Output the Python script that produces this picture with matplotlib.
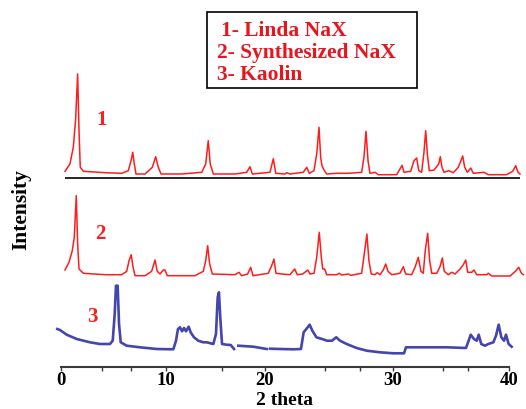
import numpy as np
import matplotlib
matplotlib.use("Agg")
import matplotlib.pyplot as plt
from matplotlib.patches import Rectangle

# 2 theta positions and intensities (relative to each pattern's own baseline)
linda_x = [0.41, 0.88, 1.20, 1.42, 1.61, 1.74, 1.86, 2.15, 4.21, 5.79, 6.42, 6.68, 6.84, 6.99,
           7.15, 8.01, 8.70, 9.02, 9.27, 9.53, 11.59, 13.61, 14.01, 14.27, 14.47, 14.78, 16.97,
           18.15, 18.48, 18.72, 20.39, 20.65, 20.84, 21.56, 21.70, 21.95, 22.99, 23.26, 23.46,
           23.83, 24.04, 24.22, 24.35, 24.45, 24.61, 24.82, 25.60, 26.51, 27.55, 27.73, 27.89,
           28.05, 28.20, 28.59, 28.85, 30.32, 30.60, 30.78, 30.95, 31.53, 31.81, 32.04, 32.22,
           32.47, 32.67, 32.82, 32.96, 33.13, 33.54, 33.94, 34.08, 34.22, 34.40, 34.80, 35.20,
           35.63, 36.01, 36.18, 36.41, 36.70, 36.92, 37.84, 38.22, 39.80, 40.32, 40.58, 40.78,
           40.95]
linda_y = [7.0, 14.3, 31.3, 59.3, 104.3, 47.6, 11.0, 7.0, 5.6, 5.0, 7.6, 17.6, 26.0, 14.3,
           4.3, 4.3, 11.0, 21.6, 11.0, 4.3, 4.3, 6.0, 14.3, 37.6, 14.3, 4.3, 4.3,
           6.0, 11.6, 4.3, 6.0, 19.6, 5.0, 4.3, 5.6, 4.3, 6.0, 11.0, 5.0,
           7.6, 24.3, 51.0, 21.0, 12.6, 8.3, 4.3, 5.0, 5.0, 6.0, 21.0, 47.0,
           17.6, 5.0, 6.0, 3.6, 3.6, 9.3, 13.0, 6.0, 7.0, 17.6, 20.3, 7.6,
           6.0, 26.0, 47.6, 24.3, 7.6, 8.3, 14.3, 21.6, 11.0, 6.0, 7.6, 5.6,
           11.0, 22.3, 11.0, 6.0, 10.3, 5.0, 6.0, 3.6, 3.6, 7.0, 12.6, 6.0,
           4.3]

synth_x = [0.41, 0.79, 1.10, 1.29, 1.48, 1.61, 1.74, 2.15, 4.21, 5.79, 6.27, 6.49, 6.70, 6.87,
           7.06, 8.01, 8.64, 8.96, 9.17, 9.43, 9.74, 9.90, 10.13, 12.93, 13.77, 14.01, 14.21,
           14.41, 14.68, 16.97, 17.37, 17.64, 18.25, 18.55, 18.79, 20.26, 20.52, 20.70, 20.86,
           21.30, 21.95, 22.32, 22.52, 22.95, 23.34, 23.52, 23.83, 24.04, 24.24, 24.40, 24.51,
           24.66, 24.82, 25.60, 25.80, 25.98, 26.51, 26.70, 27.55, 27.79, 27.96, 28.12, 28.30,
           28.59, 28.77, 28.98, 29.24, 29.43, 29.61, 29.90, 30.60, 30.89, 31.09, 31.61, 31.90,
           32.18, 32.41, 32.61, 32.78, 32.99, 33.16, 33.34, 33.77, 34.05, 34.25, 34.42, 34.77,
           35.06, 35.35, 35.78, 36.06, 36.27, 36.44, 36.79, 36.98, 37.22, 38.08, 38.22, 38.51,
           40.09, 40.55, 40.84, 41.07, 41.24]
synth_y = [9.0, 16.7, 28.3, 41.7, 83.3, 35.0, 10.0, 5.7, 4.3, 4.3, 7.7, 18.3, 24.3, 11.7,
           3.3, 3.3, 7.7, 19.0, 7.7, 5.0, 9.0, 9.0, 3.3, 3.3, 7.7, 18.3, 33.3,
           15.0, 5.0, 4.3, 6.7, 3.3, 5.0, 11.7, 3.3, 5.7, 13.3, 20.0, 5.7,
           5.0, 4.3, 10.0, 4.3, 5.0, 9.0, 5.0, 5.7, 21.7, 46.7, 21.7, 10.0,
           10.0, 4.3, 4.3, 5.7, 4.0, 5.0, 3.7, 5.7, 28.3, 45.0, 18.3, 5.0,
           4.3, 6.3, 4.3, 9.0, 15.0, 7.7, 4.3, 5.7, 12.3, 5.0, 4.3, 11.7,
           21.7, 7.7, 5.7, 28.3, 45.7, 18.3, 5.7, 5.7, 12.3, 21.0, 7.7, 4.3,
           6.7, 5.0, 10.0, 14.3, 19.0, 6.7, 6.7, 9.0, 4.3, 4.3, 5.7, 3.0,
           3.0, 7.7, 11.7, 5.7, 4.3]

kaolin_x = [-0.32, -0.07, 0.57, 1.52, 2.78, 3.73, 4.68, 4.94, 5.13, 5.25, 5.41, 5.54, 5.70,
            6.27, 7.53, 9.12, 10.74, 11.01, 11.21, 11.41, 11.62, 11.82, 12.02, 12.29, 12.49,
            12.83, 13.26, 13.77, 14.11, 14.78, 15.05, 15.22, 15.35, 15.48, 15.66, 16.13, 16.54,
            16.87, np.nan, 17.31, 18.82, 20.13, np.nan, 20.39, 21.17, 22.23, 22.81, 23.02, 23.23,
            23.49, 23.70, 24.02, 24.46, 24.84, 25.23, 25.57, 25.86, 26.38, 27.16, 27.95, 28.98,
            30.03, 30.95, 31.12, 32.33, 34.63, 36.29, 36.52, 36.70, 36.98, 37.22, 37.39, 37.61,
            37.93, 38.22, 38.65, 38.88, 39.11, 39.34, 39.57, 39.74, 39.97, 40.23]
kaolin_y = [30.0, 29.0, 24.3, 20.0, 16.7, 15.0, 15.0, 18.3, 45.0, 73.3, 73.3, 35.0, 16.7,
            13.3, 11.7, 10.0, 9.7, 18.3, 30.0, 31.7, 27.7, 31.0, 27.7, 32.3, 26.7,
            21.7, 18.3, 16.7, 16.7, 15.0, 25.0, 61.7, 66.7, 41.7, 15.0, 14.3, 14.0,
            10.0, np.nan, 13.3, 12.3, 10.0, np.nan, 10.3, 10.0, 9.7, 10.0, 26.7, 30.0,
            34.3, 28.3, 21.7, 20.0, 18.3, 18.3, 21.7, 18.3, 15.0, 11.0, 8.3, 6.7,
            5.7, 5.7, 11.7, 11.7, 11.7, 11.0, 18.3, 24.3, 20.0, 18.3, 24.3, 15.0,
            13.3, 15.0, 16.7, 23.3, 34.3, 21.7, 18.3, 24.3, 15.0, 12.3]

legend_labels = ["1- Linda NaX", "2- Synthesized NaX", "3- Kaolin"]
curve_tags = ["1", "2", "3"]

# the scanned axis is not evenly spaced: map 2theta onto it piecewise
knots_deg = [-10, 0, 10, 20, 30, 40, 50]
knots_px = [-44.6, 60.7, 166, 265, 393, 509, 625]


def forward(x):
    return np.interp(x, knots_deg, knots_px)


def inverse(p):
    return np.interp(p, knots_px, knots_deg)


serif = ["Liberation Serif", "DejaVu Serif"]
red = "#ff1c1c"

fig = plt.figure(figsize=(5.26, 4.10), dpi=100)
ax = fig.add_axes([0, 0, 1, 1])
ax.set_xscale("function", functions=(forward, inverse))
ax.set_xlim(-5.764, 41.466)
ax.set_ylim(-42, 368)

off1, off2, off3 = 188.7, 88, 8
ax.plot(linda_x, np.array(linda_y) + off1, color=red, lw=1.1)
ax.hlines(off1, 0.41, 40.95, color="black", lw=1.2)
ax.plot(synth_x, np.array(synth_y) + off2, color=red, lw=1.1)
ax.plot(kaolin_x, np.array(kaolin_y) + off3, color="#2424a0", lw=1.9, alpha=0.85)

# bottom axis only
for s in ["top", "left", "right"]:
    ax.spines[s].set_visible(False)
ax.spines["bottom"].set_position(("data", 0))
ax.spines["bottom"].set_bounds(0, 40)
ax.spines["bottom"].set_color("#3a3a3a")
ax.spines["bottom"].set_linewidth(1.5)
ax.set_yticks([])
ax.set_xticks([0, 10, 20, 30, 40])
ax.set_xticks([3.89, 6.65, 15.63, 24.69, 27.42, 34.31, 36.47], minor=True)
ax.set_xticklabels(["0", "10", "20", "30", "40"])
ax.tick_params(axis="x", which="both", length=3, width=1, color="#3a3a3a", pad=0)
for lab in ax.get_xticklabels():
    lab.set_fontfamily(serif)
    lab.set_fontweight("bold")
    lab.set_fontsize(13.5)

fig.text(284 / 526, 1 - 409 / 410, "2 theta", ha="center", va="bottom",
         family=serif, fontweight="bold", fontsize=14)
fig.text(21 / 526, 1 - 210 / 410, "Intensity", ha="center", va="center", rotation=90,
         family=serif, fontweight="bold", fontsize=15.5)

for tag, (px, py) in zip(curve_tags, [(102, 120), (100, 234), (92, 317)]):
    fig.text(px / 526, 1 - py / 410, tag, ha="center", va="center", color=red,
             family=serif, fontweight="bold", fontsize=15)

# legend box
fig.patches.append(Rectangle((207 / 526, 1 - 89 / 410), 210 / 526, 76 / 410,
                             transform=fig.transFigure, fill=False, ec="black", lw=1.2))
for lab, (px, py) in zip(legend_labels, [(221, 31), (217, 53), (217, 75)]):
    fig.text(px / 526, 1 - py / 410, lab, ha="left", va="center", color="#e8141e",
             family=serif, fontweight="bold", fontsize=15.5)

fig.savefig("out.png", dpi=100)
